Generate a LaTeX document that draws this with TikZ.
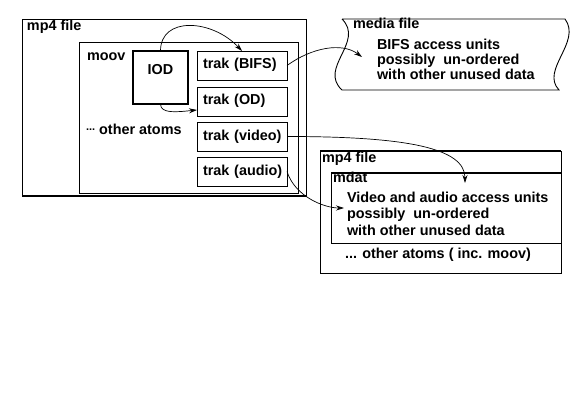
\documentclass[tikz,border=0pt]{standalone}
\usepackage{fontspec}
\setmainfont{Liberation Sans}
\usetikzlibrary{positioning}
\usetikzlibrary{calc}
\usetikzlibrary{arrows.meta}
\tikzset{
	every node/.style={inner sep=0pt,outer sep=0pt,font=\fontsize{14.4}{15}\selectfont\bfseries},
	every path/.style={line width=0.9pt},
	lbl/.style={anchor=base west},
	box/.style={draw,anchor=north west},
	trak/.style={box,minimum width=90pt,minimum height=29pt,text width=78pt,inner xsep=6pt,align=left,text height=11pt,text depth=4pt},
	link/.style={-{Stealth[length=8pt,width=5pt]},line width=0.7pt},
}

\begin{document}
\begin{tikzpicture}[x=1pt,y=-1pt]
	\useasboundingbox (0,0) rectangle (575,417);

	% mp4 file with moov.....................
	\node [box,minimum width=284pt,minimum height=177pt] (mp4a) at (22,19) {};
	\draw [line width=2pt] (mp4a.south west) -- (mp4a.south east);
	\node [lbl] (mp4atext) at (27,31) {mp4 file};
	\node [box,minimum width=219pt,minimum height=151pt] (moov) at (79,42) {};
	\node [lbl] (moovtext) at (87,61) {moov};
	\node [lbl] (others) at (86,135) {\raisebox{5pt}{\fontsize{11}{11}\selectfont...} other atoms};

	% IOD.....................
	\node [box,line width=2pt,minimum width=55pt,minimum height=53pt] (iod) at (133,51) {};
	\node [anchor=base] (iodtext) at (160.5,75) {IOD};

	% trak boxes..............
	\node [trak] (bifs) at (197,51) {\mbox{trak (BIFS)}};
	\node [trak,below=7pt of bifs] (od) {\mbox{trak (OD)}};
	\node [trak,below=6pt of od] (video) {\mbox{trak (video)}};
	\node [trak,below=6pt of video] (audio) {\mbox{trak (audio)}};

	% media file....................
	\coordinate (mtl) at (342,19);
	\coordinate (mbl) at (342,90);
	\coordinate (mtr) at (565,19);
	\coordinate (mbr) at (559,90);
	\draw (mtl) -- (mtr) .. controls (582,42) and (540,70) .. (mbr) -- (mbl) .. controls (318,68) and (365,42) .. (mtl);
	\node [lbl] (mediatext) at (353,29) {media file};
	\node [lbl] (bifsunits) at (377,50) {BIFS access units};
	\node [lbl] (mediaorder) at (377,65) {possibly~ un-ordered};
	\node [lbl] (mediaother) at (377,80) {with other unused data};
	\coordinate (bifsin) at (362,57);

	% second mp4 file with mdat..............
	\node [box,minimum width=241pt,minimum height=122pt] (mp4b) at (320,151) {};
	\draw [line width=2pt] (mp4b.north west) -- (mp4b.north east);
	\node [lbl] (mp4btext) at (322,162) {mp4 file};
	\node [box,minimum width=230pt,minimum height=70pt] (mdat) at (331,173) {};
	\draw [line width=2pt] (mdat.north west) -- (mdat.north east);
	\node [lbl] (mdattext) at (333,182) {mdat};
	\node [lbl] (avunits) at (347,202) {Video and audio access units};
	\node [lbl] (mdatorder) at (347,218) {possibly~ un-ordered};
	\node [lbl] (mdatother) at (347,235) {with other unused data};
	\node [lbl] (mp4bother) at (345,258) {... other atoms ( inc. moov)};
	\coordinate (vidin) at (465,183);
	\coordinate (audin) at (344,208);

	% links.....................
	\draw [link] (iod.north) .. controls +(0,-35) and +(-30,-32) .. (bifs.north);
	\draw [link] (iod.south) .. controls +(0,10) and +(-20,2) .. ([yshift=6pt]od.south west);
	\draw [link] (bifs.east) .. controls +(25,-18) and +(-20,-15) .. (bifsin);
	\draw [link] (video.east) .. controls +(120,0) and +(0,-35) .. (vidin);
	\draw [link] (audio.east) .. controls +(8,25) and +(-20,0) .. (audin);
\end{tikzpicture}
\end{document}
